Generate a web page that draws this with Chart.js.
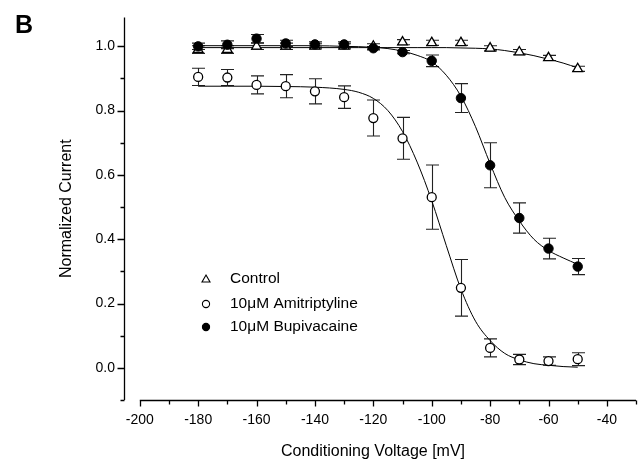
<!DOCTYPE html>
<html>
<head>
<meta charset="utf-8">
<script src="https://cdn.jsdelivr.net/npm/chart.js@4.4.0/dist/chart.umd.min.js"></script>
<style>
body{margin:0;background:#fff;}
</style>
</head>
<body>
<canvas id="ssiChart" width="643" height="465"></canvas>
<script>

// measured points (conditioning voltage, mV)
let voltages = [-180,-170,-160,-150,-140,-130,-120,-110,-100,-90,-80,-70,-60,-50];

let control = [0.99,0.99,1.0,1.0,1.0,1.0,1.0,1.013,1.011,1.011,0.994,0.982,0.964,0.930];
let controlErr = [0.012,0.012,0.01,0.01,0.008,0.008,0.008,0.008,0.008,0.008,0.008,0.008,0.008,0.008];

let amitriptyline = [0.905,0.903,0.880,0.876,0.860,0.842,0.777,0.714,0.531,0.249,0.062,0.026,0.021,0.027];
let amitriptylineErr = [0.027,0.025,0.028,0.036,0.039,0.035,0.056,0.065,0.10,0.088,0.028,0.016,0.013,0.02];

let bupivacaine = [1.0,1.005,1.024,1.009,1.006,1.006,0.994,0.982,0.955,0.839,0.630,0.466,0.371,0.315];
let bupivacaineErr = [0.01,0.012,0.013,0.01,0.008,0.008,0.005,0.005,0.018,0.045,0.07,0.047,0.032,0.025];

// fitted curves
let fitVoltages = [-180,-170,-160,-150,-140,-130,-125,-120,-115,-110,-105,-100,-95,-90,-85,-80,-75,-70,-65,-60,-55,-50];
let controlFit = [0.996,0.996,0.996,0.996,0.996,0.996,0.996,0.996,0.996,0.996,0.996,0.996,0.996,0.995,0.994,0.992,0.987,0.98,0.971,0.96,0.948,0.933];
let amitriptylineFit = [0.876,0.876,0.876,0.875,0.873,0.866,0.857,0.838,0.80,0.735,0.64,0.52,0.38,0.245,0.145,0.085,0.045,0.025,0.013,0.008,0.004,0.002];
let bupivacaineFit = [1.002,1.002,1.002,1.002,1.002,1.0,0.999,0.997,0.993,0.985,0.972,0.952,0.91,0.845,0.75,0.635,0.53,0.457,0.40,0.365,0.342,0.322];

// axis ticks
let xLabels = [-200,-180,-160,-140,-120,-100,-80,-60,-40];
let xTickMarks = [-200,-190,-180,-170,-160,-150,-140,-130,-120,-110,-100,-90,-80,-70,-60,-50,-40,-30];
let yLabels = [0,0.2,0.4,0.6,0.8,1.0];
let yTickMarks = [-0.1,0,0.1,0.2,0.3,0.4,0.5,0.6,0.7,0.8,0.9,1.0];

let fontFamily = "'Liberation Sans', Arial, sans-serif";

function toPoints(xs, ys){
    return xs.map((x, i) => ({x: x, y: ys[i]}));
}

function isLabelled(list, v){
    return list.some(l => Math.abs(l - v) < 1e-6);
}

const errorBars = {
    id: 'errorBars',
    beforeDatasetsDraw(chart){
        let ctx = chart.ctx;
        let xs = chart.scales.x;
        let ys = chart.scales.y;
        ctx.save();
        ctx.strokeStyle = '#222';
        ctx.lineWidth = 1.1;
        chart.data.datasets.forEach(ds => {
            if(!ds.err) return;
            ds.data.forEach((p, i) => {
                let px = Math.round(xs.getPixelForValue(p.x)) + 0.5;
                let top = ys.getPixelForValue(p.y + ds.err[i]);
                let bot = ys.getPixelForValue(p.y - ds.err[i]);
                ctx.beginPath();
                ctx.moveTo(px, top);
                ctx.lineTo(px, bot);
                ctx.moveTo(px - 6.5, top);
                ctx.lineTo(px + 6.5, top);
                ctx.moveTo(px - 6.5, bot);
                ctx.lineTo(px + 6.5, bot);
                ctx.stroke();
            });
        });
        ctx.restore();
    }
};

const axesAndText = {
    id: 'axesAndText',
    afterDraw(chart){
        let ctx = chart.ctx;
        let xs = chart.scales.x;
        let ys = chart.scales.y;
        let area = chart.chartArea;
        ctx.save();
        ctx.strokeStyle = '#000';
        ctx.lineWidth = 1.3;

        // y axis line + ticks
        let ax = Math.round(area.left) + 0.5;
        ctx.beginPath();
        ctx.moveTo(ax, area.top);
        ctx.lineTo(ax, area.bottom);
        yTickMarks.forEach(v => {
            let py = Math.round(ys.getPixelForValue(v)) + 0.5;
            let len = isLabelled(yLabels, v) ? 7 : 4;
            ctx.moveTo(ax, py);
            ctx.lineTo(ax - len, py);
        });
        ctx.stroke();

        // x axis line + ticks
        let ay = Math.round(area.bottom) + 0.5;
        ctx.beginPath();
        ctx.moveTo(xs.getPixelForValue(xTickMarks[0]), ay);
        ctx.lineTo(area.right, ay);
        xTickMarks.forEach(v => {
            let px = Math.round(xs.getPixelForValue(v)) + 0.5;
            let len = isLabelled(xLabels, v) ? 6 : 4;
            ctx.moveTo(px, ay);
            ctx.lineTo(px, ay + len);
        });
        ctx.stroke();

        // x axis title
        ctx.fillStyle = '#000';
        ctx.font = '16px ' + fontFamily;
        ctx.textAlign = 'center';
        ctx.textBaseline = 'alphabetic';
        ctx.fillText('Conditioning Voltage [mV]', 373, 456);

        // panel letter
        ctx.font = 'bold 25px ' + fontFamily;
        ctx.textAlign = 'left';
        ctx.fillText('B', 15, 33);

        // legend
        let rows = [279, 304, 327];
        let lx = 206;
        ctx.font = '15.5px ' + fontFamily;
        ctx.textBaseline = 'middle';
        chart.data.datasets.filter(ds => ds.err).forEach((ds, i) => {
            let ly = rows[i];
            ctx.lineWidth = 1.1;
            ctx.strokeStyle = '#000';
            ctx.fillStyle = ds.backgroundColor;
            ctx.beginPath();
            if(ds.pointStyle === 'triangle'){
                ctx.moveTo(lx, ly - 4);
                ctx.lineTo(lx + 4, ly + 3);
                ctx.lineTo(lx - 4, ly + 3);
                ctx.closePath();
            } else {
                ctx.arc(lx, ly, 3.6, 0, Math.PI * 2);
            }
            ctx.fill();
            ctx.stroke();
            ctx.fillStyle = '#000';
            ctx.fillText(ds.label, 230, ly);
        });

        ctx.restore();
    }
};

function fitDataset(values){
    return {
        type: 'line',
        data: toPoints(fitVoltages, values),
        borderColor: '#000',
        borderWidth: 1,
        pointRadius: 0,
        showLine: true,
        fill: false,
        cubicInterpolationMode: 'monotone',
        order: 5
    };
}

new Chart(document.getElementById('ssiChart'), {
    type: 'scatter',
    data: {
        datasets: [
            {
                label: 'Control',
                data: toPoints(voltages, control),
                err: controlErr,
                pointStyle: 'triangle',
                pointRadius: 5.6,
                backgroundColor: '#fff',
                borderColor: '#000',
                borderWidth: 1.3,
                order: 3
            },
            {
                label: '10\u03bcM Amitriptyline',
                data: toPoints(voltages, amitriptyline),
                err: amitriptylineErr,
                pointStyle: 'circle',
                pointRadius: 4.5,
                backgroundColor: '#fff',
                borderColor: '#000',
                borderWidth: 1.3,
                order: 2
            },
            {
                label: '10\u03bcM Bupivacaine',
                data: toPoints(voltages, bupivacaine),
                err: bupivacaineErr,
                pointStyle: 'circle',
                pointRadius: 4.7,
                backgroundColor: '#000',
                borderColor: '#000',
                borderWidth: 1,
                order: 1
            },
            fitDataset(controlFit),
            fitDataset(amitriptylineFit),
            fitDataset(bupivacaineFit)
        ]
    },
    options: {
        responsive: false,
        animation: false,
        layout: {padding: {top: 9, right: 4, left: 0, bottom: 0}},
        plugins: {
            legend: {display: false},
            tooltip: {enabled: false}
        },
        scales: {
            x: {
                type: 'linear',
                min: -205.4,
                max: -30,
                grid: {display: false, drawTicks: false},
                border: {display: false},
                afterBuildTicks: s => { s.ticks = xLabels.map(v => ({value: v})); },
                afterFit: s => { s.height = 65; },
                ticks: {
                    padding: 12,
                    color: '#000',
                    autoSkip: false,
                    maxRotation: 0,
                    font: {family: fontFamily, size: 14},
                    callback: v => String(v)
                }
            },
            y: {
                type: 'linear',
                min: -0.1,
                max: 1.09,
                grid: {display: false, drawTicks: false},
                border: {display: false},
                afterBuildTicks: s => { s.ticks = yLabels.map(v => ({value: v})); },
                afterFit: s => { s.width = 124; },
                ticks: {
                    padding: 9,
                    color: '#000',
                    font: {family: fontFamily, size: 14},
                    callback: v => Number(v).toFixed(1)
                },
                title: {
                    display: true,
                    text: 'Normalized Current',
                    color: '#000',
                    font: {family: fontFamily, size: 16},
                    padding: {top: 57, bottom: 0}
                }
            }
        }
    },
    plugins: [errorBars, axesAndText]
});

</script>
</body>
</html>
